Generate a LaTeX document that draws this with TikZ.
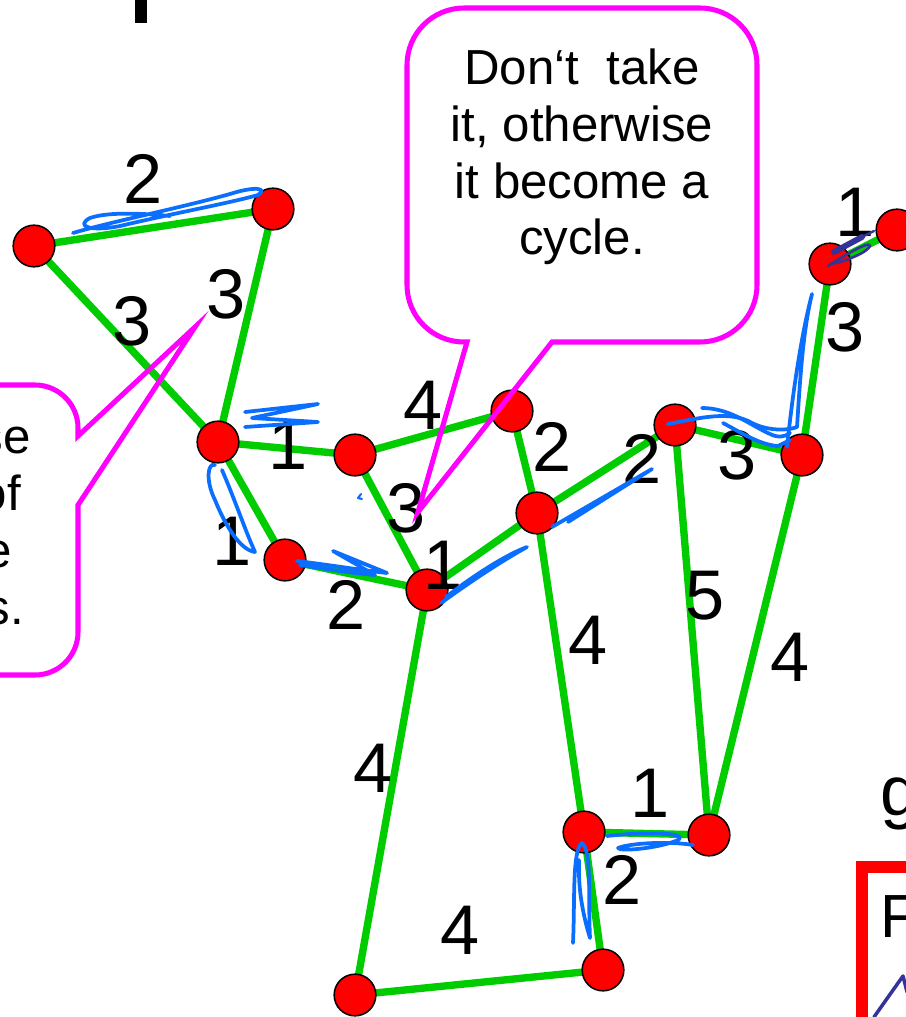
\documentclass[tikz,border=0pt]{standalone}
\usepackage{fontspec}
\setmainfont{Liberation Sans}
\usetikzlibrary{backgrounds}
\definecolor{vred}{RGB}{255,0,0}
\definecolor{vgreen}{RGB}{0,204,0}
\definecolor{callmag}{RGB}{255,0,255}
\definecolor{inkblue}{RGB}{10,110,255}
\definecolor{inkdark}{RGB}{51,51,153}
\definecolor{boxred}{RGB}{255,0,0}
\begin{document}
\begin{tikzpicture}[x=0.03cm,y=-0.03cm,
  vertex/.style={circle,fill=vred,draw=black,line width=1.3pt,minimum size=1.25cm,inner sep=0},
  edge/.style={draw=vgreen,line width=6.3pt},
  weight/.style={inner sep=0,font=\fontsize{60}{72}\selectfont},
  callout/.style={draw=callmag,line width=4.3pt,line join=miter},
  note/.style={inner sep=0,font=\fontsize{42}{48.5}\selectfont},
  ink/.style={draw=inkblue,line width=3.2pt,line cap=round,line join=round},
  darkink/.style={draw=inkdark,line width=3pt,line cap=round,line join=round}]
\useasboundingbox (0,0) rectangle (906,1017);

% vertices
\node[vertex] (A) at (34,246) {};
\node[vertex] (B) at (273,209) {};
\node[vertex] (C) at (218,442) {};
\node[vertex] (D) at (355,455) {};
\node[vertex] (E) at (512,411) {};
\node[vertex] (F) at (285,560) {};
\node[vertex] (G) at (427,590) {};
\node[vertex] (H) at (537,513) {};
\node[vertex] (I) at (675,425) {};
\node[vertex] (J) at (802,455) {};
\node[vertex] (K) at (830,264) {};
\node[vertex] (L) at (897,230) {};
\node[vertex] (M) at (584,832) {};
\node[vertex] (N) at (709,835) {};
\node[vertex] (O) at (603,970) {};
\node[vertex] (P) at (355,995) {};

% edges, behind the vertices
\begin{scope}[on background layer]
\draw[edge] (A.center) -- (B.center);
\draw[edge] (A.center) -- (C.center);
\draw[edge] (B.center) -- (C.center);
\draw[edge] (C.center) -- (D.center);
\draw[edge] (C.center) -- (F.center);
\draw[edge] (D.center) -- (E.center);
\draw[edge] (D.center) -- (G.center);
\draw[edge] (F.center) -- (G.center);
\draw[edge] (E.center) -- (H.center);
\draw[edge] (G.center) -- (H.center);
\draw[edge] (H.center) -- (I.center);
\draw[edge] (I.center) -- (J.center);
\draw[edge] (J.center) -- (K.center);
\draw[edge] (K.center) -- (L.center);
\draw[edge] (I.center) -- (N.center);
\draw[edge] (J.center) -- (N.center);
\draw[edge] (H.center) -- (M.center);
\draw[edge] (M.center) -- (N.center);
\draw[edge] (M.center) -- (O.center);
\draw[edge] (O.center) -- (P.center);
\draw[edge] (G.center) -- (P.center);
\end{scope}

% edge weights
\node[weight] (wAB) at (143,179) {2};
\node[weight] (wAC) at (132,321) {3};
\node[weight] (wBC) at (226,294) {3};
\node[weight] (wCD) at (288,445) {1};
\node[weight] (wCF) at (232,541) {1};
\node[weight] (wDE) at (423,405) {4};
\node[weight] (wDG) at (406,508) {3};
\node[weight] (wFG) at (346,605) {2};
\node[weight] (wGH) at (443,565) {1};
\node[weight] (wEH) at (552,447) {2};
\node[weight] (wHI) at (642,459) {2};
\node[weight] (wIJ) at (737,455) {3};
\node[weight] (wJK) at (845,327) {3};
\node[weight] (wKL) at (855,212) {1};
\node[weight] (wIN) at (705,596) {5};
\node[weight] (wJN) at (790,657) {4};
\node[weight] (wHM) at (588,640) {4};
\node[weight] (wGP) at (373,768) {4};
\node[weight] (wMN) at (650,793) {1};
\node[weight] (wMO) at (622,880) {2};
\node[weight] (wOP) at (460,930) {4};

% pieces of the surrounding slide
\fill[black] (135,0) rectangle (147,23);
\node[anchor=base west,inner sep=0,font=\fontsize{60}{72}\selectfont] (gtxt) at (880,815) {g};
\draw[boxred,line width=11pt] (862,867) rectangle (1100,1200);
\node[anchor=base west,inner sep=0,font=\fontsize{52}{62}\selectfont] (ftxt) at (880,937) {F};
\draw[darkink] (874,1017) -- (903,976) -- (907,992);

% callout: cycle warning
\draw[callout] (552,342) -- (700,342) arc[start angle=270,end angle=360,radius=1.71cm]
  -- (757,65) arc[start angle=0,end angle=90,radius=1.71cm]
  -- (464,8) arc[start angle=90,end angle=180,radius=1.71cm]
  -- (407,285) arc[start angle=180,end angle=270,radius=1.71cm]
  -- (467,342) -- (418,512) -- cycle;
\node[note,align=center] (warn) at (582,157) {Don‘t~ take\\it, otherwise\\it become a\\cycle.};

% callout on the left
\draw[callout] (-300,385) -- (35,385) arc[start angle=90,end angle=0,radius=1.29cm]
  -- (78,436) -- (195,327) -- (78,505) -- (78,632)
  arc[start angle=0,end angle=-90,radius=1.29cm] -- (-300,675);
\node[note,anchor=base east] (l1) at (31,453) {se};
\node[note,anchor=base east] (l2) at (21,510) {of};
\node[note,anchor=base east] (l3) at (12,567) {e};
\node[note,anchor=base east] (l4) at (24,624) {s.};

% hand-drawn marks over the chosen edges
\draw[ink] (73,233) .. controls (110,222) and (180,208) .. (230,194)
  .. controls (255,186) and (268,188) .. (258,195)
  .. controls (230,203) and (170,214) .. (120,226)
  .. controls (90,232) and (75,226) .. (90,218)
  .. controls (110,211) and (150,214) .. (170,216);
\draw[ink] (245,412) -- (318,404) -- (252,418) -- (318,422) -- (245,427);
\draw[ink] (222,470) .. controls (235,500) and (245,530) .. (255,552)
  .. controls (240,550) and (225,525) .. (215,500)
  .. controls (205,480) and (208,462) .. (215,465);
\draw[ink] (297,561) .. controls (330,565) and (360,570) .. (387,573)
  -- (333,551) -- (375,575) .. controls (350,573) and (320,568) .. (300,565);
\draw[ink] (441,603) .. controls (470,582) and (500,562) .. (527,547)
  .. controls (505,555) and (470,578) .. (446,597);
\draw[ink] (552,527) -- (652,469) -- (568,522);
\draw[ink] (668,424) .. controls (700,418) and (730,410) .. (752,423)
  .. controls (770,432) and (790,430) .. (797,427)
  .. controls (800,380) and (803,330) .. (812,294)
  .. controls (800,340) and (792,400) .. (787,447);
\draw[ink] (702,408) .. controls (730,408) and (750,425) .. (770,434)
  .. controls (778,438) and (785,437) .. (790,433);
\draw[ink] (723,423) .. controls (740,432) and (760,445) .. (778,446) -- (790,440);
\draw[ink] (607,836) .. controls (640,832) and (690,832) .. (678,840)
  .. controls (660,848) and (620,852) .. (618,848)
  .. controls (630,843) and (670,841) .. (693,845);
\draw[ink] (573,943) .. controls (575,900) and (572,850) .. (582,843)
  .. controls (592,850) and (588,900) .. (590,938)
  .. controls (583,915) and (578,890) .. (579,860);
\draw[ink,line width=1.8pt] (361,494) -- (358,498) -- (362,499);
\draw[darkink,line width=5pt] (834,252) -- (862,237);
\draw[darkink,line width=2pt] (862,237) -- (874,231);
\draw[darkink,line width=2.2pt] (828,266) .. controls (845,255) and (870,240) .. (870,246)
  .. controls (868,252) and (845,262) .. (830,264);
\end{tikzpicture}
\end{document}
